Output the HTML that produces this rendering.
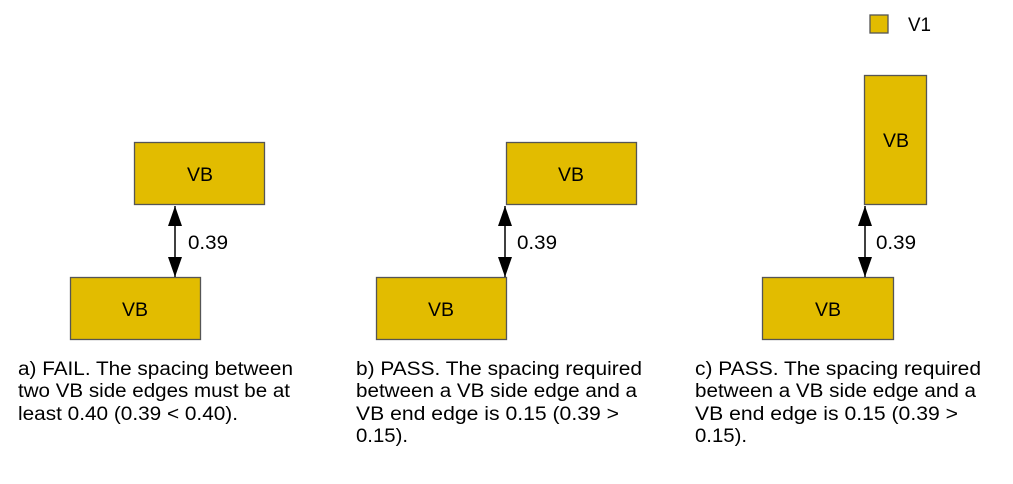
<!DOCTYPE html>
<html><head><style>
body{margin:0;background:#fff;}
svg text{font-family:"Liberation Sans",sans-serif;fill:#000;}
</style></head><body>
<svg width="1013" height="479" xmlns="http://www.w3.org/2000/svg">
<defs>
<marker id="ah" viewBox="0 0 20 14" refX="20" refY="7" markerWidth="20" markerHeight="14" markerUnits="userSpaceOnUse" orient="auto"><path d="M0,0 L20,7 L0,14 z" fill="#000"/></marker>
</defs>
<g fill="#e2bc00" stroke="#555" stroke-width="1.3">
<rect x="870" y="15" width="18" height="18"/>
<rect x="134.5" y="142.5" width="130" height="62"/>
<rect x="70.5" y="277.5" width="130" height="62"/>
<rect x="506.5" y="142.5" width="130" height="62"/>
<rect x="376.5" y="277.5" width="130" height="62"/>
<rect x="864.5" y="75.5" width="62" height="129"/>
<rect x="762.5" y="277.5" width="131" height="62"/>
</g>
<g stroke="#000" stroke-width="1.5">
<line x1="175" y1="242" x2="175" y2="206" marker-end="url(#ah)"/>
<line x1="175" y1="242" x2="175" y2="277" marker-end="url(#ah)"/>
<line x1="505" y1="242" x2="505" y2="206" marker-end="url(#ah)"/>
<line x1="505" y1="242" x2="505" y2="277" marker-end="url(#ah)"/>
<line x1="865" y1="242" x2="865" y2="206" marker-end="url(#ah)"/>
<line x1="865" y1="242" x2="865" y2="277" marker-end="url(#ah)"/>
</g>
<g font-size="19">
<text x="908" y="31" textLength="23" lengthAdjust="spacingAndGlyphs">V1</text>
<text x="187" y="181" textLength="26" lengthAdjust="spacingAndGlyphs">VB</text>
<text x="122" y="316" textLength="26" lengthAdjust="spacingAndGlyphs">VB</text>
<text x="558" y="181" textLength="26" lengthAdjust="spacingAndGlyphs">VB</text>
<text x="428" y="316" textLength="26" lengthAdjust="spacingAndGlyphs">VB</text>
<text x="883" y="147" textLength="26" lengthAdjust="spacingAndGlyphs">VB</text>
<text x="815" y="316" textLength="26" lengthAdjust="spacingAndGlyphs">VB</text>
<text x="188" y="249" textLength="40" lengthAdjust="spacingAndGlyphs">0.39</text>
<text x="517" y="249" textLength="40" lengthAdjust="spacingAndGlyphs">0.39</text>
<text x="876" y="249" textLength="40" lengthAdjust="spacingAndGlyphs">0.39</text>
<text x="18" y="375" textLength="275" lengthAdjust="spacingAndGlyphs">a) FAIL. The spacing between</text>
<text x="18" y="397" textLength="272" lengthAdjust="spacingAndGlyphs">two VB side edges must be at</text>
<text x="18" y="420" textLength="220" lengthAdjust="spacingAndGlyphs">least 0.40 (0.39 &lt; 0.40).</text>
<text x="356" y="375" textLength="286" lengthAdjust="spacingAndGlyphs">b) PASS. The spacing required</text>
<text x="356" y="397" textLength="281" lengthAdjust="spacingAndGlyphs">between a VB side edge and a</text>
<text x="356" y="420" textLength="263" lengthAdjust="spacingAndGlyphs">VB end edge is 0.15 (0.39 &gt;</text>
<text x="356" y="442" textLength="52" lengthAdjust="spacingAndGlyphs">0.15).</text>
<text x="695" y="375" textLength="286" lengthAdjust="spacingAndGlyphs">c) PASS. The spacing required</text>
<text x="695" y="397" textLength="281" lengthAdjust="spacingAndGlyphs">between a VB side edge and a</text>
<text x="695" y="420" textLength="263" lengthAdjust="spacingAndGlyphs">VB end edge is 0.15 (0.39 &gt;</text>
<text x="695" y="442" textLength="52" lengthAdjust="spacingAndGlyphs">0.15).</text>
</g>
</svg>
</body></html>
